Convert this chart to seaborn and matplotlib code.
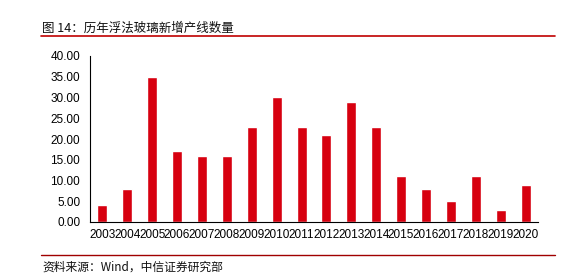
import matplotlib
matplotlib.use("Agg")
import matplotlib.pyplot as plt
import seaborn as sns
import pandas as pd
import numpy as np
from matplotlib.lines import Line2D

years = ["2003", "2004", "2005", "2006", "2007", "2008", "2009", "2010", "2011",
         "2012", "2013", "2014", "2015", "2016", "2017", "2018", "2019", "2020"]
values = [4, 8, 35, 17, 16, 16, 23, 30, 23, 21, 29, 23, 11, 8, 5, 11, 3, 9]
yticks = [0, 5, 10, 15, 20, 25, 30, 35, 40]

title = "图 14：历年浮法玻璃新增产线数量"
source = "资料来源：Wind，中信证券研究部"

sns.set_style("white")
plt.rcParams['font.family'] = ['Liberation Sans', 'Noto Sans CJK SC', 'DejaVu Sans']

fig = plt.figure(figsize=(5.79, 2.75), dpi=100)
ax = fig.add_axes([90/579, 1-222/275, (538-90)/579, (222-56)/275])

df = pd.DataFrame({"year": years, "value": values})
sns.barplot(data=df, x="year", y="value", color="#D7000F", saturation=1, width=0.4, ax=ax)

ax.set_xlim(-0.5, len(years) - 0.5)
ax.set_ylim(0, 40)
ax.set_yticks(yticks)
ax.set_yticklabels([f"{v:.2f}" for v in yticks], fontsize=8.5, color="black")
ax.set_xlabel("")
ax.set_ylabel("")
ax.tick_params(axis='x', which='major', length=0, pad=5, labelsize=8.5, labelcolor="black")
ax.set_xticks(np.arange(-0.5, len(years), 1), minor=True)
ax.tick_params(axis='x', which='minor', length=4, width=0.8, color="black", direction="out")
ax.tick_params(axis='y', which='major', length=4, width=0.8, color="black", direction="out", pad=3)
for s in ["top", "right"]:
    ax.spines[s].set_visible(False)
for s in ["left", "bottom"]:
    ax.spines[s].set_color("black")
    ax.spines[s].set_linewidth(0.8)

fig.text(42/579, 1-28/275, title, fontsize=9, color="#111111", va="center", ha="left",
         family=['Noto Sans CJK SC', 'DejaVu Sans'])
fig.add_artist(Line2D([41/579, 555/579], [1-36/275, 1-36/275], color="#C00000", lw=1.2))
fig.add_artist(Line2D([41/579, 555/579], [1-255/275, 1-255/275], color="#A00000", lw=1.0))
fig.text(42/579, 1-267/275, source, fontsize=8.5, color="#111111", va="center", ha="left",
         family=['Noto Sans CJK SC', 'DejaVu Sans'])

fig.savefig("out.png", dpi=100)
